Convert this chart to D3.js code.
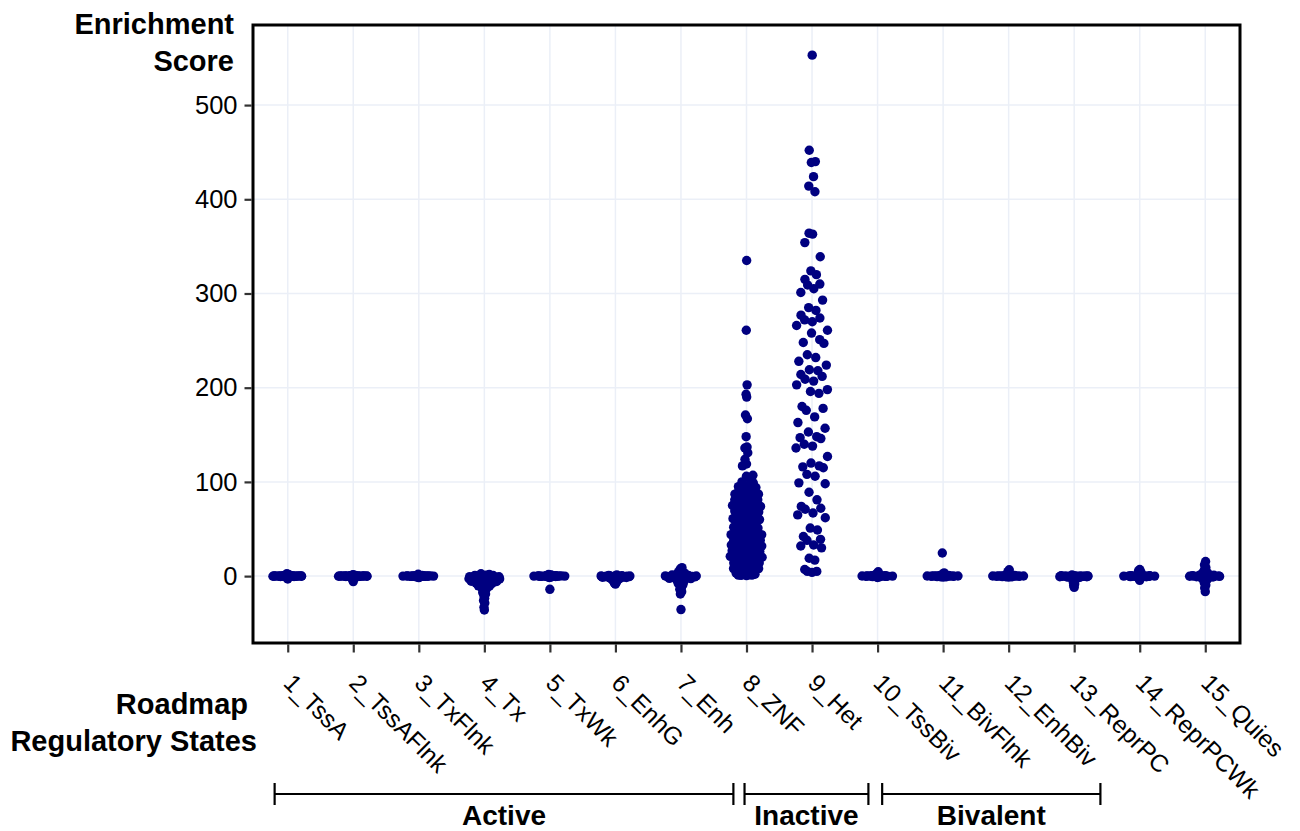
<!DOCTYPE html>
<html>
  <head>
    <meta charset="utf-8" />
    <title>Enrichment Score by Roadmap State</title>
    <style>
      body {
        margin: 0;
        background: #fff;
      }
      svg text {
        font-family: "Liberation Sans", Arial, Helvetica, sans-serif;
      }
    </style>
    <script src="https://d3js.org/d3.v7.min.js"></script>
  </head>
  <body>
    <div id="chart"></div>
    <script>
      // categories on the x axis
      var states = ["1_TssA", "2_TssAFlnk", "3_TxFlnk", "4_Tx", "5_TxWk", "6_EnhG", "7_Enh",
        "8_ZNF", "9_Het", "10_TssBiv", "11_BivFlnk", "12_EnhBiv", "13_ReprPC", "14_ReprPCWk", "15_Quies"];

      // enrichment scores per state
      var tssA = [0.1, -0.2, 0.3, -0.1, 0.0, 0.2, -0.3, 0.4, -0.4, 0.1, -0.1, 0.2, 0.0, -0.2, 0.3, -0.5, 0.5, 0.1,
        -0.1, 0.0, 0.2, -0.3, 0.1, -0.2, 0.6, -0.6, 0.0, 0.3, -0.1, 0.2, 1.2, -1.4, 1.8, -2.2, 2.5, -3.0, 0.9, -0.9, 0.4, -0.4];
      var tssAFlnk = [0.2, -0.1, 0.0, 0.3, -0.3, 0.1, -0.2, 0.4, -0.4, 0.0, 0.2, -0.1, 0.1, -0.5, 0.5, 0.0, -0.2, 0.3,
        0.1, -0.3, 0.0, 0.2, -0.1, 0.6, -0.6, 0.1, -0.2, 0.3, 1.0, -1.5, 1.4, -2.8, -4.0, -5.8, 0.8, -0.8, 0.0, -0.4];
      var txFlnk = [0.0, 0.1, -0.1, 0.2, -0.2, 0.3, -0.3, 0.1, 0.0, -0.1, 0.4, -0.4, 0.2, -0.2, 0.0, 0.5, -0.5, 0.1,
        -0.1, 0.3, 0.0, -0.3, 0.2, 0.6, -0.6, 0.1, 0.0, 1.1, -1.0, 1.9, -1.6, 0.8, -0.7, 0.2];
      var tx = [2.5, 1.8, 1.2, 0.8, 0.4, 0.0, -0.3, -0.6, -1.0, -1.3, -1.7, -2.0, -2.4, -2.8, -3.1, -3.5, -3.9, -4.2,
        -4.6, -5.0, -5.5, 0.2, -0.1, -0.8, -1.5, -2.2, -3.0, -3.7, -4.4, -6.0, -6.6, -7.1, -7.8, -8.5, -9.2, -10.0,
        -10.8, -11.7, -12.5, -13.6, -14.8, -16.0, -17.5, -19.0, -21.0, -23.5, -26.0, -28.5, -33.0, -36.0, 1.0, -0.4,
        -1.1, -2.6, -3.3, -5.2, -6.3, -8.0, -0.7, -1.6, -2.3, -3.4, -4.8, -5.1, -6.2, -7.4, -8.8, -9.6, 0.6, -1.9,
        -2.7, -4.0, -5.7, -7.0, -10.3, -11.1];
      var txWk = [0.1, -0.1, 0.0, 0.2, -0.2, 0.3, -0.3, 0.0, 0.1, -0.4, 0.4, -0.1, 0.2, 0.0, -0.5, 0.5, 0.1, -0.2,
        0.3, 0.0, -0.3, 0.6, -0.6, 0.1, 1.2, -1.1, 1.8, -1.5, -14.0, 0.7, -0.8, 0.0];
      var enhG = [0.8, 0.4, 0.1, 0.0, -0.2, -0.4, -0.6, -0.8, -1.0, -1.2, 0.2, -0.1, -0.3, -0.5, -0.7, 0.5, 0.0, -0.9,
        -1.4, -1.7, -2.0, -2.4, -2.8, -3.3, -3.8, -4.4, -5.0, -5.8, -6.6, -7.6, -8.5, 0.3, -0.2, -1.1, -1.6, -2.2, 1.3];
      var enh = [9.0, 7.5, 6.0, 4.5, 3.2, 2.0, 1.2, 0.6, 0.2, 0.0, -0.3, -0.6, -1.0, -1.4, -1.9, -2.4, -3.0, 0.4,
        -0.1, -0.8, -1.6, 0.8, -0.4, -2.1, -3.6, -4.3, -5.0, -5.8, -6.7, -7.8, -9.0, -10.5, -12.0, -14.0, -16.5, -19.0,
        -35.5, 1.6, -0.2, -1.2, -2.7, 0.1, -0.5];
      var znf = [335, 261, 203, 193, 190, 171, 167, 148, 137, 136, 131, 124, 119, 117, 107, 106,
        103, 99, 97, 94, 92, 91, 88, 87, 85, 84, 82, 81, 80, 79, 77, 76, 74, 73, 71, 70, 68, 66, 65, 63, 60, 58, 57,
        54, 52, 50, 49, 47, 46, 45, 44, 43, 42, 41, 40, 39, 38, 37, 36, 35, 34, 33, 32, 31, 30, 29, 28, 27, 26, 25,
        24, 23, 22, 21, 20, 19, 18, 17, 16, 15, 14, 13, 12, 11, 10, 9, 8, 7, 6, 5, 4, 3, 2, 1.5, 1, 0.5,
        44, 41, 38, 35, 33, 30, 27, 24, 21, 18, 14, 11, 8, 5, 3, 2, 1, 0.8, 90, 83, 78, 72, 62,
        96, 93, 89, 86, 84, 81, 78, 75, 73, 69, 67, 64, 61, 59, 56, 53, 51, 48, 100, 95, 87, 71];
      var het = [553, 452, 440, 439, 424, 414, 408, 364, 363, 354, 339, 324, 320, 315, 310, 309, 305, 301, 293, 285,
        282, 277, 274, 272, 270, 266, 261, 258, 251, 248, 247, 235, 232, 228, 224, 219, 218, 214, 212, 209, 207, 203,
        198, 196, 194, 180, 178, 176, 169, 163, 157, 153, 148, 147, 146, 140, 138, 136, 127, 120, 117, 116, 115, 108,
        106, 99, 98, 89, 81, 74, 72, 71, 67, 65, 62, 51, 49, 42, 39, 38, 33, 32, 30, 19, 17, 7, 5, 5, 4];
      var tssBiv = [0.1, -0.1, 0.0, 0.2, -0.2, 0.3, -0.3, 0.0, 0.4, -0.4, 0.1, -0.1, 0.5, -0.5, 0.2, 0.0, -0.2, 0.6,
        -0.6, 0.1, 1.0, -0.9, 1.8, -1.4, 2.8, 4.6, 0.3, -0.3, 0.0];
      var bivFlnk = [0.0, 0.1, -0.1, 0.2, -0.2, 0.3, -0.3, 0.4, -0.4, 0.1, 0.0, -0.1, 0.5, -0.5, 0.2, -0.2, 0.6,
        0.0, -0.6, 0.1, 1.2, -1.0, 2.1, 3.4, 24.5, 0.8, -0.7, 0.3];
      var enhBiv = [0.1, -0.1, 0.0, 0.2, -0.2, 0.3, -0.3, 0.4, -0.4, 0.0, 0.1, -0.1, 0.5, -0.5, 0.2, 0.0, -0.2, 0.6,
        -0.6, 0.1, 1.1, -1.0, 2.0, 3.2, 4.8, 6.8, 0.8, -0.7, 0.3];
      var reprPC = [0.3, 0.1, 0.0, -0.1, -0.2, -0.3, 0.2, -0.4, 0.0, 0.1, -0.5, -0.6, 0.4, -0.2, 0.0, -0.8, -1.0,
        -0.3, 0.5, -1.3, -1.7, -2.2, -2.8, -3.5, -4.5, -5.5, -7.0, -8.5, -10.0, -12.0, 0.1, -0.7, 1.2, -1.1];
      var reprPCWk = [0.0, 0.2, -0.2, 0.1, -0.1, 0.4, -0.4, 0.3, -0.3, 0.0, 0.6, -0.6, 0.1, -0.1, 0.8, -0.8, 0.2,
        -0.2, 1.2, -1.2, 1.7, -1.7, 2.4, -2.3, 3.2, -3.0, 4.2, 5.5, 7.0, -4.5, 0.5, -0.5, 0.0];
      var quies = [0.0, 0.3, -0.3, 0.1, -0.1, 0.6, -0.6, 0.2, -0.2, 0.9, -0.9, 0.4, -0.4, 1.3, -1.3, 0.0, 1.8, -1.8,
        2.5, -2.5, 3.3, -3.2, 4.3, -4.2, 5.6, -5.4, 7.0, -7.0, 9.0, -9.5, 12.0, 15.5, -12.5, -16.5, 0.7, -0.7, 0.1];

      var series = [tssA, tssAFlnk, txFlnk, tx, txWk, enhG, enh, znf, het, tssBiv, bivFlnk, enhBiv, reprPC, reprPCWk, quies];

      // y axis ticks
      var yTicks = [0, 100, 200, 300, 400, 500];

      // state groups drawn as brackets under the axis (positions in category units, 1 = first state)
      var groupNames = ["Active", "Inactive", "Bivalent"];
      var groupFrom = [0.8, 7.97, 10.07];
      var groupTo = [7.8, 9.86, 13.4];

      var width = 1300, height = 831;
      var margin = {top: 25, right: 60, bottom: 188, left: 253};
      var plotW = width - margin.left - margin.right;
      var plotH = height - margin.top - margin.bottom;

      var svg = d3.select("#chart").append("svg")
        .attr("width", width)
        .attr("height", height);

      var x = d3.scalePoint()
        .domain(states)
        .range([margin.left, margin.left + plotW])
        .padding(0.53);

      var y = d3.scaleLinear()
        .domain([-71, 585])
        .range([margin.top + plotH, margin.top]);

      // category index -> pixel, for the group brackets
      var xi = d3.scaleLinear()
        .domain([1, states.length])
        .range([x(states[0]), x(states[states.length - 1])]);

      // grid
      var grid = svg.append("g");
      grid.selectAll(".hgrid").data(yTicks).enter().append("line")
        .attr("x1", margin.left).attr("x2", margin.left + plotW)
        .attr("y1", function(d) { return y(d); }).attr("y2", function(d) { return y(d); })
        .attr("stroke", "#ebeff7").attr("stroke-width", 1.5);
      grid.selectAll(".vgrid").data(states).enter().append("line")
        .attr("x1", function(d) { return x(d); }).attr("x2", function(d) { return x(d); })
        .attr("y1", margin.top).attr("y2", margin.top + plotH)
        .attr("stroke", "#ebeff7").attr("stroke-width", 1.5);

      // quasirandom offsets (van der Corput sequence scaled by density)
      function vdc(n) {
        var v = 0, denom = 1;
        while (n > 0) { denom *= 2; v += (n % 2) / denom; n = Math.floor(n / 2); }
        return v;
      }
      function offsets(vals) {
        var n = vals.length;
        var sd = d3.deviation(vals);
        var sorted = vals.slice().sort(d3.ascending);
        var iqr = d3.quantile(sorted, 0.75) - d3.quantile(sorted, 0.25);
        var lo = Math.min(sd, iqr / 1.34);
        if (!(lo > 0)) lo = sd || 1;
        var bw = 0.9 * lo * Math.pow(n, -0.2);
        var dens = vals.map(function(v) {
          return d3.sum(vals, function(u) { var z = (v - u) / bw; return Math.exp(-0.5 * z * z); });
        });
        var maxD = d3.max(dens);
        var order = d3.range(n).sort(function(a, b) { return vals[a] - vals[b] || a - b; });
        var off = new Array(n);
        order.forEach(function(idx, rank) {
          off[idx] = (vdc(rank + 1) - 0.5) * 2 * dens[idx] / maxD;
        });
        return off;
      }

      var maxOff = 17;
      var points = [];
      series.forEach(function(vals, i) {
        var off = offsets(vals);
        vals.forEach(function(v, j) {
          points.push({state: states[i], value: v, off: off[j]});
        });
      });

      svg.append("g").selectAll("circle").data(points).enter().append("circle")
        .attr("cx", function(d) { return x(d.state) + d.off * maxOff; })
        .attr("cy", function(d) { return y(d.value); })
        .attr("r", 4.7)
        .attr("fill", "#000080");

      // y axis
      var yAxis = svg.append("g")
        .attr("transform", "translate(" + (margin.left - 1.5) + ",0)")
        .call(d3.axisLeft(y).tickValues(yTicks).tickSize(7).tickPadding(7).tickSizeOuter(0));
      yAxis.select(".domain").remove();
      yAxis.selectAll(".tick line").attr("stroke", "#333").attr("stroke-width", 2.2);
      yAxis.selectAll(".tick text")
        .attr("font-size", 25.5)
        .attr("fill", "#000")
        .style("font-family", "'Liberation Sans', Arial, sans-serif");

      // x axis
      var xAxis = svg.append("g")
        .attr("transform", "translate(0," + (margin.top + plotH + 1.5) + ")")
        .call(d3.axisBottom(x).tickSize(8).tickSizeOuter(0));
      xAxis.select(".domain").remove();
      xAxis.selectAll(".tick line").attr("stroke", "#333").attr("stroke-width", 2.2);
      xAxis.selectAll(".tick text")
        .attr("font-size", 24.5)
        .attr("fill", "#000")
        .attr("text-anchor", "start")
        .attr("dy", null)
        .attr("y", 0)
        .attr("transform", "translate(-6,40) rotate(45)")
        .style("font-family", "'Liberation Sans', Arial, sans-serif");

      // frame
      svg.append("rect")
        .attr("x", margin.left).attr("y", margin.top)
        .attr("width", plotW).attr("height", plotH)
        .attr("fill", "none").attr("stroke", "#000").attr("stroke-width", 3);

      // axis titles
      svg.append("text").attr("x", 234).attr("y", 34).attr("text-anchor", "end")
        .attr("font-size", 29).attr("font-weight", "bold").text("Enrichment");
      svg.append("text").attr("x", 234).attr("y", 71).attr("text-anchor", "end")
        .attr("font-size", 29).attr("font-weight", "bold").text("Score");
      svg.append("text").attr("x", 248).attr("y", 714).attr("text-anchor", "end")
        .attr("font-size", 29).attr("font-weight", "bold").text("Roadmap");
      svg.append("text").attr("x", 257).attr("y", 751).attr("text-anchor", "end")
        .attr("font-size", 29).attr("font-weight", "bold").text("Regulatory States");

      // group brackets
      var br = svg.append("g").selectAll("g").data(groupNames).enter().append("g");
      br.append("line")
        .attr("x1", function(d, i) { return xi(groupFrom[i]); })
        .attr("x2", function(d, i) { return xi(groupTo[i]); })
        .attr("y1", 794).attr("y2", 794)
        .attr("stroke", "#000").attr("stroke-width", 2.2);
      br.append("line")
        .attr("x1", function(d, i) { return xi(groupFrom[i]); })
        .attr("x2", function(d, i) { return xi(groupFrom[i]); })
        .attr("y1", 783).attr("y2", 805)
        .attr("stroke", "#000").attr("stroke-width", 2.2);
      br.append("line")
        .attr("x1", function(d, i) { return xi(groupTo[i]); })
        .attr("x2", function(d, i) { return xi(groupTo[i]); })
        .attr("y1", 783).attr("y2", 805)
        .attr("stroke", "#000").attr("stroke-width", 2.2);
      br.append("text")
        .attr("x", function(d, i) { return (xi(groupFrom[i]) + xi(groupTo[i])) / 2; })
        .attr("y", 825)
        .attr("text-anchor", "middle")
        .attr("font-size", 28).attr("font-weight", "bold")
        .text(function(d) { return d; });
    </script>
  </body>
</html>
